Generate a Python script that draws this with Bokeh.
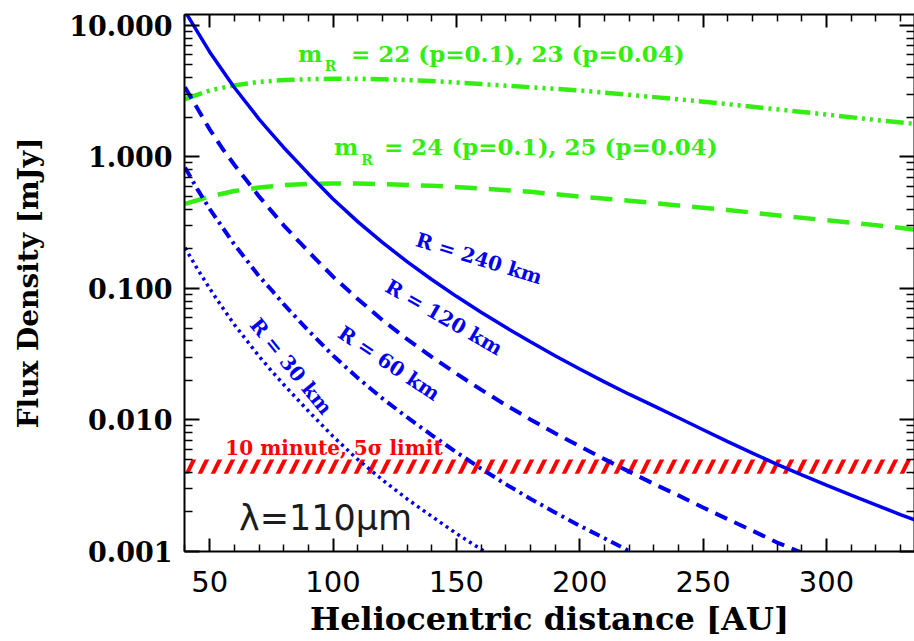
from bokeh.plotting import figure
from bokeh.models import (Range1d, FixedTicker, LinearAxis, LogAxis, Label,
                          PrintfTickFormatter)
from bokeh.embed import file_html
from bokeh.resources import INLINE

# ---------------- data ----------------
dist_240 = [40, 45, 50, 55, 60, 65, 70, 75, 80, 90, 100, 110, 120, 130, 140, 150, 160, 170, 180,
            190, 200, 210, 220, 230, 240, 250, 260, 270, 280, 290, 300, 310, 320, 330, 336]
flux_240 = [12.8, 8.97, 6.28, 4.60, 3.37, 2.56, 1.94, 1.51, 1.18, 0.746, 0.479, 0.322, 0.224,
            0.160, 0.117, 0.0871, 0.0659, 0.0506, 0.0393, 0.0308, 0.0244, 0.0195, 0.0157, 0.0128,
            0.0104, 0.00843, 0.00685, 0.0056, 0.00459, 0.00382, 0.00319, 0.00268, 0.00226,
            0.00191, 0.00173]

dist_120 = [40, 45, 50, 55, 60, 65, 70, 75, 80, 90, 100, 110, 120, 130, 140, 150, 160, 170, 180,
            190, 200, 210, 220, 230, 240, 250, 260, 270, 280, 290]
flux_120 = [3.39, 2.34, 1.62, 1.17, 0.871, 0.661, 0.501, 0.389, 0.302, 0.191, 0.123, 0.0832,
            0.0575, 0.0412, 0.0302, 0.0225, 0.0170, 0.0130, 0.0101, 0.00794, 0.00631, 0.00504,
            0.00405, 0.00327, 0.00267, 0.00216, 0.00176, 0.00144, 0.00117, 0.00098]

dist_60 = [40, 45, 50, 55, 60, 65, 70, 75, 80, 90, 100, 110, 120, 130, 140, 150, 160, 170, 180,
           190, 200, 210, 220, 225]
flux_60 = [0.83, 0.569, 0.403, 0.295, 0.216, 0.164, 0.124, 0.0977, 0.0759, 0.0479, 0.0309,
           0.0209, 0.0146, 0.0105, 0.00767, 0.00569, 0.00427, 0.00325, 0.00252, 0.00198,
           0.00157, 0.00126, 0.00101, 0.00091]

dist_30 = [40, 45, 50, 55, 60, 65, 70, 75, 80, 90, 100, 110, 120, 130, 140, 150, 160, 165]
flux_30 = [0.204, 0.141, 0.100, 0.0724, 0.0531, 0.0403, 0.0305, 0.0237, 0.0186, 0.0117, 0.0075,
           0.00501, 0.00351, 0.00251, 0.00185, 0.00137, 0.00104, 0.00091]

dist_green = [40, 50, 60, 70, 80, 90, 100, 110, 120, 140, 160, 180, 200, 220, 240, 260, 280, 300, 320, 336]
flux_mr22 = [2.75, 3.2, 3.5, 3.72, 3.84, 3.9, 3.93, 3.93, 3.9, 3.78, 3.58, 3.39, 3.2, 2.97, 2.74,
             2.52, 2.3, 2.1, 1.91, 1.78]
flux_mr24 = [0.44, 0.50, 0.55, 0.585, 0.61, 0.622, 0.628, 0.627, 0.62, 0.604, 0.575, 0.543, 0.50,
             0.465, 0.428, 0.395, 0.36, 0.33, 0.303, 0.28]

limit_x = [40, 336]
limit_lo = [0.0039, 0.0039]
limit_hi = [0.005, 0.005]

x_ticks = [50, 100, 150, 200, 250, 300]
x_minor = [40, 60, 70, 80, 90, 110, 120, 130, 140, 160, 170, 180, 190, 210, 220, 230, 240,
           260, 270, 280, 290, 310, 320, 330]
y_ticks = [0.001, 0.01, 0.1, 1.0, 10.0]
y_tick_labels = ["0.001", "0.010", "0.100", "1.000", "10.000"]
y_minor = [m * d for d in [0.001, 0.01, 0.1, 1.0] for m in range(2, 10)]

BLUE = "#0000F0"
GREEN = "#33EE11"
RED = "#FF0000"
SERIF = "DejaVu Serif"

# ---------------- figure ----------------
p = figure(width=914, height=641, x_range=Range1d(39.8, 335.7), y_range=Range1d(0.001, 12.1),
           y_axis_type="log", output_backend="svg", toolbar_location=None,
           min_border_left=184, min_border_right=0, min_border_top=14, min_border_bottom=90)
p.grid.visible = False
p.outline_line_color = None
p.background_fill_color = "white"
p.border_fill_color = "white"

xt = FixedTicker(ticks=x_ticks, minor_ticks=x_minor)
yt = FixedTicker(ticks=y_ticks, minor_ticks=y_minor)

top_ax = LinearAxis(ticker=xt, major_label_text_font_size="1px", major_label_text_color=None,
                    major_label_standoff=0)
right_ax = LogAxis(ticker=yt, major_label_text_font_size="1px", major_label_text_color=None,
                   major_label_standoff=0)
p.add_layout(top_ax, "above")
p.add_layout(right_ax, "right")

bottom_ax = p.below[0]
left_ax = p.left[0]
bottom_ax.ticker = xt
left_ax.ticker = yt

for ax in [bottom_ax, top_ax]:
    ax.major_tick_in = 13
    ax.minor_tick_in = 7
for ax in [left_ax, right_ax]:
    ax.major_tick_in = 15
    ax.minor_tick_in = 8
for ax in [bottom_ax, top_ax, left_ax, right_ax]:
    ax.major_tick_out = 0
    ax.minor_tick_out = 0
    ax.axis_line_width = 2
    ax.major_tick_line_width = 2
    ax.minor_tick_line_width = 1.5
    ax.axis_line_color = "black"
    ax.major_tick_line_color = "black"
    ax.minor_tick_line_color = "black"

left_ax.formatter = PrintfTickFormatter(format="%.3f")
left_ax.major_label_overrides = dict(zip(y_ticks, y_tick_labels))
left_ax.major_label_text_font = SERIF
left_ax.major_label_text_font_style = "bold"
left_ax.major_label_text_font_size = "27px"
left_ax.major_label_text_color = "black"
left_ax.major_label_standoff = 12
left_ax.axis_label = "Flux Density [mJy]"
left_ax.axis_label_text_font = SERIF
left_ax.axis_label_text_font_style = "bold"
left_ax.axis_label_text_font_size = "28px"
left_ax.axis_label_text_color = "black"
left_ax.axis_label_standoff = 21

bottom_ax.major_label_text_font = "DejaVu Sans"
bottom_ax.major_label_text_font_size = "29px"
bottom_ax.major_label_text_color = "black"
bottom_ax.major_label_standoff = 19
bottom_ax.axis_label = "Heliocentric distance [AU]"
bottom_ax.axis_label_text_font = SERIF
bottom_ax.axis_label_text_font_style = "bold"
bottom_ax.axis_label_text_font_size = "32px"
bottom_ax.axis_label_text_color = "black"
bottom_ax.axis_label_standoff = 5

# ---------------- glyphs ----------------
p.varea(x=limit_x, y1=limit_lo, y2=limit_hi, fill_color=None, hatch_pattern="/",
        hatch_color=RED, hatch_weight=4, hatch_scale=26)

p.line(dist_green, flux_mr22, line_color=GREEN, line_width=4.5, line_dash="18 5 3 5 3 5 3 5")
p.line(dist_green, flux_mr24, line_color=GREEN, line_width=4.5, line_dash="22 12")

p.line(dist_240, flux_240, line_color=BLUE, line_width=3.5)
p.line(dist_120, flux_120, line_color=BLUE, line_width=4, line_dash="13 8")
p.line(dist_60, flux_60, line_color=BLUE, line_width=4, line_dash="11 5 3 5")
p.line(dist_30, flux_30, line_color=BLUE, line_width=3.5, line_dash="3 4")

# ---------------- annotations ----------------
def lab(x, y, text, color, size, align="left", baseline="alphabetic", angle=0.0,
        font=SERIF, style="bold"):
    p.add_layout(Label(x=x, y=y, text=text, text_color=color, text_font=font,
                       text_font_style=style, text_font_size=size, text_align=align,
                       text_baseline=baseline, angle=angle))

lab(85.8, 6.14, "m", GREEN, "23px")
lab(96.6, 4.89, "R", GREEN, "14px")
lab(107.3, 6.14, "= 22 (p=0.1), 23 (p=0.04)", GREEN, "23px")

lab(100.4, 1.21, "m", GREEN, "23px")
lab(111.4, 0.949, "R", GREEN, "14px")
lab(120.7, 1.21, "= 24 (p=0.1), 25 (p=0.04)", GREEN, "23px")

lab(100.4, 0.00613, "10 minute, 5σ limit", RED, "20px", align="center", baseline="middle")

lab(159.2, 0.169, "R = 240 km", BLUE, "20px", align="center", baseline="middle", angle=-0.30)
lab(145.0, 0.0603, "R = 120 km", BLUE, "20px", align="center", baseline="middle", angle=-0.52)
lab(122.7, 0.0270, "R = 60 km", BLUE, "20px", align="center", baseline="middle", angle=-0.59)
lab(83.0, 0.0256, "R = 30 km", BLUE, "20px", align="center", baseline="middle", angle=-0.89)

lab(97.0, 0.00181, "λ=110μm", "#1c1c1c", "35px", align="center", font="DejaVu Sans",
    style="normal")

open("out.html", "w").write(file_html(p, INLINE))
